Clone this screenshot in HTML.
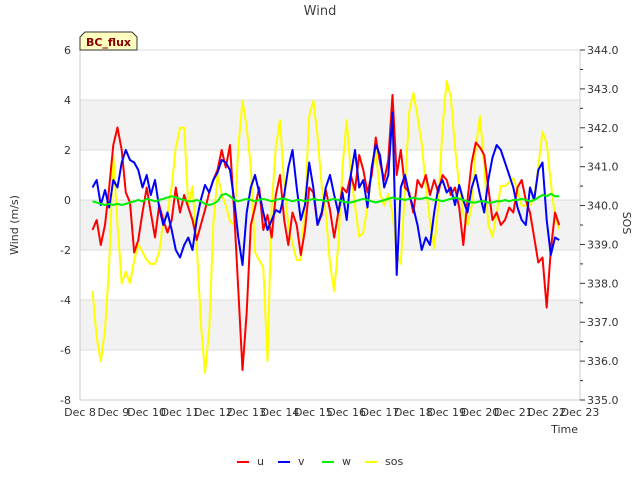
<!DOCTYPE html>
<html><head><meta charset="utf-8"><style>
body{margin:0;background:#fff;font-family:"Liberation Sans","DejaVu Sans",sans-serif;}
svg text{font-family:"DejaVu Sans","Liberation Sans",sans-serif;}
</style></head><body>
<svg id="chart" width="640" height="480" xmlns="http://www.w3.org/2000/svg">
<rect width="640" height="480" fill="#fff"/>
<g id="bands"></g><g id="grid"></g>
<g id="series"></g>
<g id="axes"></g>
<text x="320" y="15" text-anchor="middle" font-size="13" fill="#444">Wind</text>
<text transform="translate(18,225) rotate(-90)" text-anchor="middle" font-size="11" fill="#333">Wind (m/s)</text>
<text transform="translate(623,223) rotate(90)" text-anchor="middle" font-size="11" fill="#333">SOS</text>
<text x="578" y="433" text-anchor="end" font-size="11" fill="#333">Time</text>
<g>
<path d="M80,50 L80,37 L85,32 L132,32 L137,37 L137,50 Z" fill="#ffffc0" stroke="#333" stroke-width="1"/>
<text x="108.5" y="46" text-anchor="middle" font-size="11" font-weight="bold" fill="#8b0000">BC_flux</text>
</g>
<g id="legend"></g>
</svg>
<script>
const xTickLabels=["Dec 8","Dec 9","Dec 10","Dec 11","Dec 12","Dec 13","Dec 14","Dec 15","Dec 16","Dec 17","Dec 18","Dec 19","Dec 20","Dec 21","Dec 22","Dec 23"];
const yTicks=[-8,-6,-4,-2,0,2,4,6];
const y2Ticks=[335,336,337,338,339,340,341,342,343,344];
const tStart=8.375, tStep=0.125;
const uVals=[-1.2,-0.8,-1.8,-1.0,0.5,2.2,2.9,2.0,0.3,-0.1,-2.1,-1.6,-0.5,0.5,-0.5,-1.5,-0.2,-0.8,-1.3,-0.8,0.5,-0.5,0.2,-0.3,-0.8,-1.6,-1.0,-0.4,0.3,0.8,1.2,2.0,1.3,2.2,-0.5,-3.6,-6.8,-4.5,-1.0,-0.3,0.5,-1.2,-0.6,-1.5,0.2,1.0,-0.8,-1.8,-0.5,-1.0,-2.2,-1.2,0.5,0.3,-1.0,-0.6,0.4,-0.4,-1.5,-0.5,0.5,0.3,1.0,0.4,1.8,1.2,0.3,1.0,2.5,1.5,0.8,1.6,4.2,1.0,2.0,0.5,0.3,-0.5,0.8,0.5,1.0,0.2,0.8,0.3,1.0,0.8,0.2,0.5,-0.3,-1.8,0.0,1.5,2.3,2.1,1.8,0.5,-0.8,-0.5,-1.0,-0.8,-0.3,-0.5,0.5,0.8,0.0,-0.5,-1.5,-2.5,-2.3,-4.3,-2.0,-0.5,-1.0];
const vVals=[0.5,0.8,-0.2,0.4,-0.3,0.8,0.5,1.5,2.0,1.6,1.5,1.2,0.5,1.0,0.2,0.8,-0.3,-1.0,-0.5,-1.2,-2.0,-2.3,-1.8,-1.5,-2.0,-0.8,0.0,0.6,0.3,0.8,1.1,1.6,1.5,1.2,0.0,-1.5,-2.6,-0.5,0.5,1.0,0.3,-0.5,-1.2,-0.8,-0.4,-0.5,0.2,1.3,2.0,0.5,-0.8,-0.2,1.5,0.5,-1.0,-0.5,0.5,1.0,0.2,-0.5,0.3,-0.8,1.0,2.0,0.5,0.8,-0.3,1.3,2.2,1.8,0.5,1.0,3.5,-3.0,0.5,1.0,0.2,-0.3,-1.0,-2.0,-1.5,-1.8,-0.5,0.5,0.8,0.3,0.5,-0.2,0.6,0.0,-0.5,0.5,1.0,0.2,-0.5,0.8,1.7,2.2,2.0,1.5,1.0,0.5,-0.3,-0.8,-1.0,0.5,0.0,1.2,1.5,-0.8,-2.2,-1.5,-1.6];
const wVals=[-0.05,-0.1,-0.15,-0.2,-0.15,-0.2,-0.15,-0.2,-0.15,-0.1,-0.05,0.0,-0.05,0.05,0.0,-0.05,0.0,0.05,0.1,0.15,0.1,0.05,0.0,-0.05,-0.05,0.0,-0.05,-0.15,-0.2,-0.15,-0.05,0.2,0.25,0.15,0.0,-0.05,0.0,0.05,0.0,-0.05,0.0,0.05,0.0,-0.05,0.0,0.05,0.05,0.0,-0.05,0.0,0.0,-0.05,0.0,0.05,0.0,0.0,-0.05,0.0,0.05,0.0,-0.05,-0.1,-0.1,-0.05,0.0,0.05,0.0,-0.05,-0.1,-0.05,0.0,0.05,0.1,0.05,0.05,0.0,0.05,0.1,0.05,0.05,0.1,0.05,0.0,0.0,-0.05,0.0,0.05,0.1,0.05,0.0,-0.05,-0.1,-0.1,-0.05,-0.05,-0.1,-0.1,-0.05,-0.05,0.0,-0.05,0.0,0.0,0.05,0.0,-0.05,0.0,0.1,0.2,0.15,0.25,0.15,0.15];
const sosVals=[337.8,336.6,336.0,336.8,338.5,341.3,339.5,338.0,338.3,338.0,338.6,339.0,338.8,338.6,338.5,338.5,338.8,339.6,339.8,340.5,341.5,342.0,342.0,340.0,340.5,339.0,337.0,335.7,336.8,339.5,340.8,340.3,340.0,339.6,339.5,341.5,342.7,342.0,341.0,338.8,338.6,338.4,336.0,340.0,341.5,342.2,340.5,339.5,339.0,338.6,338.6,340.0,342.3,342.7,341.8,340.5,339.8,338.5,337.8,339.0,341.0,342.2,340.8,340.0,339.2,339.3,340.0,340.8,341.4,340.3,340.0,340.3,339.8,338.8,338.5,340.5,342.4,342.9,342.3,341.6,340.5,339.6,338.9,340.0,342.0,343.2,342.8,341.5,340.5,339.8,339.5,340.0,341.5,342.3,341.0,339.5,339.2,339.8,340.5,340.5,340.6,340.7,340.4,340.0,340.0,340.0,340.2,341.0,341.9,341.6,340.6,339.7,339.4];

const NS="http://www.w3.org/2000/svg";
const L=80,R=580,T=50,B=400;
const xOf=t=>L+(t-8)*(R-L)/15;
const yOf=v=>T+(6-v)*(B-T)/14;
const y2Of=v=>T+(344-v)*(B-T)/9;
function mk(tag,attrs,parent){const e=document.createElementNS(NS,tag);for(const k in attrs)e.setAttribute(k,attrs[k]);parent.appendChild(e);return e;}
const bands=document.getElementById('bands'),grid=document.getElementById('grid'),axes=document.getElementById('axes'),series=document.getElementById('series');
[[4,2],[0,-2],[-4,-6]].forEach(b=>{const r=mk('rect',{x:L,y:yOf(b[0]),width:R-L,height:yOf(b[1])-yOf(b[0]),fill:'#f2f2f2'},bands);

});
yTicks.forEach(v=>{const g=mk('line',{x1:L,x2:R,y1:yOf(v),y2:yOf(v),stroke:'#dcdcdc','stroke-width':1},grid);


const t=mk('text',{x:71,y:yOf(v)+4,'text-anchor':'end','font-size':11,fill:'#333'},axes);t.textContent=v;

});
mk('line',{x1:L,x2:L,y1:T,y2:B,stroke:'#ccc'},axes);
mk('line',{x1:R,x2:R,y1:T,y2:B,stroke:'#ccc'},axes);
mk('line',{x1:L,x2:R,y1:B,y2:B,stroke:'#ccc'},axes);
y2Ticks.forEach(v=>{mk('line',{x1:R,x2:R+5,y1:y2Of(v),y2:y2Of(v),stroke:'#333'},axes);
if(v<344)mk('line',{x1:R,x2:R+3,y1:y2Of(v+0.5),y2:y2Of(v+0.5),stroke:'#333'},axes);
const t=mk('text',{x:587,y:y2Of(v)+4,'font-size':11,fill:'#333'},axes);t.textContent=v.toFixed(1);

});
xTickLabels.forEach((s,i)=>{const t=mk('text',{x:xOf(8+i),y:416,'text-anchor':'middle','font-size':11,fill:'#333'},axes);t.textContent=s;

});
function line(vals,fy,color,name,w){const pts=vals.map((v,i)=>xOf(tStart+i*tStep).toFixed(1)+','+fy(v).toFixed(1)).join(' ');
const p=mk('polyline',{points:pts,fill:'none',stroke:color,'stroke-width':w,'stroke-linejoin':'round'},series);

}
line(sosVals,y2Of,'#ffff00','sos-line',2);
line(uVals,yOf,'#ff0000','u-line',2);
line(vVals,yOf,'#0000ff','v-line',2);
line(wVals,yOf,'#00ee00','w-line',2);
const leg=document.getElementById('legend');
[['u','#ff0000',237],['v','#0000ff',278],['w','#00ee00',322],['sos','#ffff00',365]].forEach(d=>{
const g=mk('g',{},leg);


mk('line',{x1:d[2],x2:d[2]+12,y1:462,y2:462,stroke:d[1],'stroke-width':2},g);
const t=mk('text',{x:d[2]+20,y:465,'font-size':11,fill:'#333'},g);t.textContent=d[0];});
</script>
</body></html>
